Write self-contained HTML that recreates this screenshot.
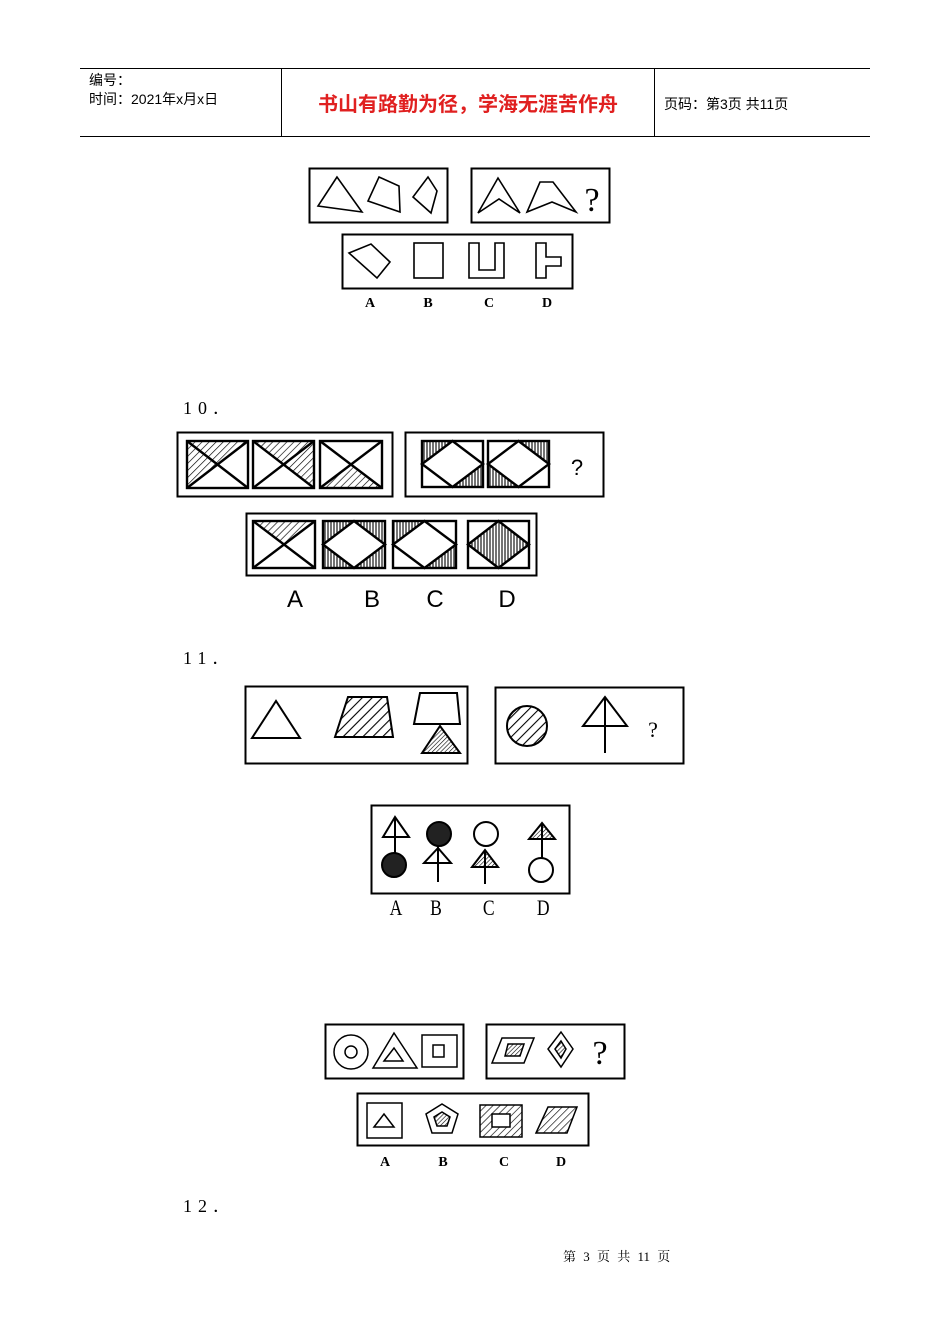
<!DOCTYPE html>
<html><head><meta charset="utf-8"><style>
html,body{margin:0;padding:0;background:#fff;}
svg{display:block;}
.s{font-family:"Liberation Sans","Noto Sans CJK SC",sans-serif;}
.r{font-family:"Liberation Serif","Noto Serif CJK SC",serif;}
</style></head><body>
<svg width="950" height="1344" viewBox="0 0 950 1344" xmlns="http://www.w3.org/2000/svg">
<defs>
<pattern id="hd" patternUnits="userSpaceOnUse" width="5" height="5" patternTransform="rotate(45)"><line x1="0" y1="0" x2="0" y2="5" stroke="#000" stroke-width="1.3"/></pattern>
<pattern id="hd2" patternUnits="userSpaceOnUse" width="3" height="3" patternTransform="rotate(45)"><line x1="0" y1="0" x2="0" y2="3" stroke="#000" stroke-width="1.2"/></pattern>
<pattern id="hw" patternUnits="userSpaceOnUse" width="7" height="7" patternTransform="rotate(45)"><line x1="0" y1="0" x2="0" y2="7" stroke="#000" stroke-width="2.2"/></pattern>
<pattern id="hv" patternUnits="userSpaceOnUse" width="3" height="3"><line x1="1" y1="0" x2="1" y2="3" stroke="#000" stroke-width="1.1"/></pattern>
</defs>
<!-- header -->
<g stroke="#000" stroke-width="1">
<line x1="80" y1="68.5" x2="870" y2="68.5"/><line x1="80" y1="136.5" x2="870" y2="136.5"/>
<line x1="281.5" y1="68" x2="281.5" y2="136"/><line x1="654.5" y1="68" x2="654.5" y2="136"/>
</g>
<text x="89" y="85" font-size="14" class="s">编号：</text>
<text x="89" y="104" font-size="14" class="s">时间：2021年x月x日</text>
<text x="468" y="111" font-size="20" fill="#e02020" text-anchor="middle" font-weight="bold" class="s">书山有路勤为径，学海无涯苦作舟</text>
<text x="664" y="109" font-size="14" class="s">页码：第3页 共11页</text>

<g fill="none" stroke="#000" stroke-width="1.6">
<!-- fig 1 -->
<rect x="309.5" y="168.5" width="138" height="54" stroke-width="2"/>
<rect x="471.5" y="168.5" width="138" height="54" stroke-width="2"/>
<rect x="342.5" y="234.5" width="230" height="54" stroke-width="2"/>
<polygon points="337,177 318,206 362,212"/>
<polygon points="379,177 399,186 400,212 368,201"/>
<polygon points="428,177 437,191 431,213 413,197"/>
<polygon points="498,178 520,213 499,199 478,213"/>
<polygon points="540,182 553,182 576,212 552,202 527,212"/>
<polygon points="349,253 371,244 390,262 377,278"/>
<rect x="414" y="243" width="29" height="35"/>
<polygon points="469,243 479,243 479,270 495,270 495,243 504,243 504,278 469,278"/>
<polygon points="536,243 546,243 546,257 561,257 561,266 546,266 546,278 536,278"/>
</g>
<text x="592" y="211" font-size="34" class="r" text-anchor="middle">?</text>
<g font-size="14" font-weight="bold" class="r" text-anchor="middle">
<text x="370" y="307">A</text><text x="428" y="307">B</text><text x="489" y="307">C</text><text x="547" y="307">D</text>
</g>

<text x="183" y="414" font-size="18" class="r" letter-spacing="6">10．</text>

<!-- fig 10 -->
<g stroke="#000" stroke-width="2" fill="none">
<rect x="177.5" y="432.5" width="215" height="64"/>
<rect x="405.5" y="432.5" width="198" height="64"/>
<rect x="246.5" y="513.5" width="290" height="62"/>
</g>
<g stroke="none">
<polygon points="187,441 248,441 217.5,464.5 187,488" fill="url(#hd)"/>
<polygon points="253,441 314,441 314,488 283.5,464.5" fill="url(#hd)"/>
<polygon points="320,488 382,488 351,464.5" fill="url(#hd)"/>
<polygon points="422,441 452.5,441 422,464" fill="url(#hv)"/>
<polygon points="483,487 452.5,487 483,464" fill="url(#hv)"/>
<polygon points="549,441 518.5,441 549,464" fill="url(#hv)"/>
<polygon points="488,487 518.5,487 488,464" fill="url(#hv)"/>
<polygon points="253,521 315,521 284,544.5" fill="url(#hd)"/>
<polygon points="323,521 354,521 323,544.5" fill="url(#hv)"/>
<polygon points="385,521 354,521 385,544.5" fill="url(#hv)"/>
<polygon points="323,568 354,568 323,544.5" fill="url(#hv)"/>
<polygon points="385,568 354,568 385,544.5" fill="url(#hv)"/>
<polygon points="393,521 424.5,521 393,544.5" fill="url(#hv)"/>
<polygon points="456,568 424.5,568 456,544.5" fill="url(#hv)"/>
<polygon points="498.5,521 529,544.5 498.5,568 468,544.5" fill="url(#hv)"/>
</g>
<g stroke="#000" stroke-width="2.4" fill="none">
<rect x="187" y="441" width="61" height="47"/><line x1="187" y1="441" x2="248" y2="488"/><line x1="248" y1="441" x2="187" y2="488"/>
<rect x="253" y="441" width="61" height="47"/><line x1="253" y1="441" x2="314" y2="488"/><line x1="314" y1="441" x2="253" y2="488"/>
<rect x="320" y="441" width="62" height="47"/><line x1="320" y1="441" x2="382" y2="488"/><line x1="382" y1="441" x2="320" y2="488"/>
<rect x="422" y="441" width="61" height="46"/><polygon points="452.5,441 483,464 452.5,487 422,464"/>
<rect x="488" y="441" width="61" height="46"/><polygon points="518.5,441 549,464 518.5,487 488,464"/>
<rect x="253" y="521" width="62" height="47"/><line x1="253" y1="521" x2="315" y2="568"/><line x1="315" y1="521" x2="253" y2="568"/>
<rect x="323" y="521" width="62" height="47"/><polygon points="354,521 385,544.5 354,568 323,544.5"/>
<rect x="393" y="521" width="63" height="47"/><polygon points="424.5,521 456,544.5 424.5,568 393,544.5"/>
<rect x="468" y="521" width="61" height="47"/><polygon points="498.5,521 529,544.5 498.5,568 468,544.5"/>
</g>
<text x="577" y="475" font-size="22" class="s" text-anchor="middle">?</text>
<g font-size="24" class="s" text-anchor="middle">
<text x="295" y="607">A</text><text x="372" y="607">B</text><text x="435" y="607">C</text><text x="507" y="607">D</text>
</g>

<text x="183" y="664" font-size="18" class="r" letter-spacing="6">11．</text>

<!-- fig 11 -->
<g stroke="#000" stroke-width="2" fill="none">
<rect x="245.5" y="686.5" width="222" height="77"/>
<rect x="495.5" y="687.5" width="188" height="76"/>
<rect x="371.5" y="805.5" width="198" height="88"/>
<polygon points="252,738 276,701 300,738"/>
<polygon points="335,737 348,697 387,697 393,737" fill="url(#hw)"/>
<polygon points="414,724 420,693 457,693 460,724" fill="#fff"/>
<polygon points="422,753 440,726 460,753" fill="url(#hd2)"/>
<circle cx="527" cy="726" r="20" fill="url(#hw)"/>
<polygon points="605,697 583,726 627,726"/><line x1="605" y1="697" x2="605" y2="753"/>
<polygon points="395,817 383,837 409,837"/><line x1="395" y1="817" x2="395" y2="853"/>
<circle cx="394" cy="865" r="12" fill="#222"/>
<circle cx="439" cy="834" r="12" fill="#222"/>
<polygon points="438,848 424,863 451,863"/><line x1="438" y1="846" x2="438" y2="882"/>
<circle cx="486" cy="834" r="12"/>
<polygon points="485,850 472,867 498,867" fill="url(#hd2)"/><line x1="485" y1="850" x2="485" y2="884"/>
<polygon points="542,823 529,839 555,839" fill="url(#hd2)"/><line x1="542" y1="823" x2="542" y2="858"/>
<circle cx="541" cy="870" r="12" fill="#fff"/>
</g>
<text x="653" y="737" font-size="22" class="r" text-anchor="middle">?</text>
<g font-size="22" class="r" text-anchor="middle">
<text x="396" y="915" transform="scale(0.8,1) translate(99,0)">A</text>
<text x="436" y="915" transform="scale(0.8,1) translate(109,0)">B</text>
<text x="489" y="915" transform="scale(0.8,1) translate(122,0)">C</text>
<text x="543" y="915" transform="scale(0.8,1) translate(136,0)">D</text>
</g>

<!-- fig 12 -->
<g stroke="#000" stroke-width="1.5" fill="none">
<rect x="325.5" y="1024.5" width="138" height="54" stroke-width="2"/>
<rect x="486.5" y="1024.5" width="138" height="54" stroke-width="2"/>
<rect x="357.5" y="1093.5" width="231" height="52" stroke-width="2"/>
<circle cx="351" cy="1052" r="17"/><circle cx="351" cy="1052" r="6"/>
<polygon points="373,1068 394,1033 417,1068"/><polygon points="384,1061 394,1048 403,1061"/>
<rect x="422" y="1035" width="35" height="32"/><rect x="433" y="1045" width="11" height="12"/>
<polygon points="492,1063 502,1038 534,1038 524,1063"/>
<polygon points="505,1056 508,1044 524,1044 520,1056" fill="url(#hd2)"/>
<polygon points="561,1032 573,1049 561,1067 548,1049"/>
<polygon points="561,1041 566,1049 561,1058 555,1049" fill="url(#hd2)"/>
<rect x="367" y="1103" width="35" height="35"/>
<polygon points="374,1127 384,1114 394,1127"/>
<polygon points="442,1104 458,1114 452,1133 432,1133 426,1114"/>
<polygon points="442,1112 450,1117 447,1126 437,1126 434,1117" fill="url(#hd2)"/>
<rect x="480" y="1105" width="42" height="32" fill="url(#hd)"/>
<rect x="492" y="1114" width="18" height="13" fill="#fff"/>
<polygon points="536,1133 548,1107 577,1107 567,1133" fill="url(#hd)"/>
</g>
<text x="600" y="1064" font-size="34" class="r" text-anchor="middle">?</text>
<g font-size="14" font-weight="bold" class="r" text-anchor="middle">
<text x="385" y="1166">A</text><text x="443" y="1166">B</text><text x="504" y="1166">C</text><text x="561" y="1166">D</text>
</g>

<text x="183" y="1212" font-size="18" class="r" letter-spacing="6">12．</text>
<text x="563" y="1261" font-size="13" class="r" word-spacing="4">第 3 页 共 11 页</text>
</svg>
</body></html>
